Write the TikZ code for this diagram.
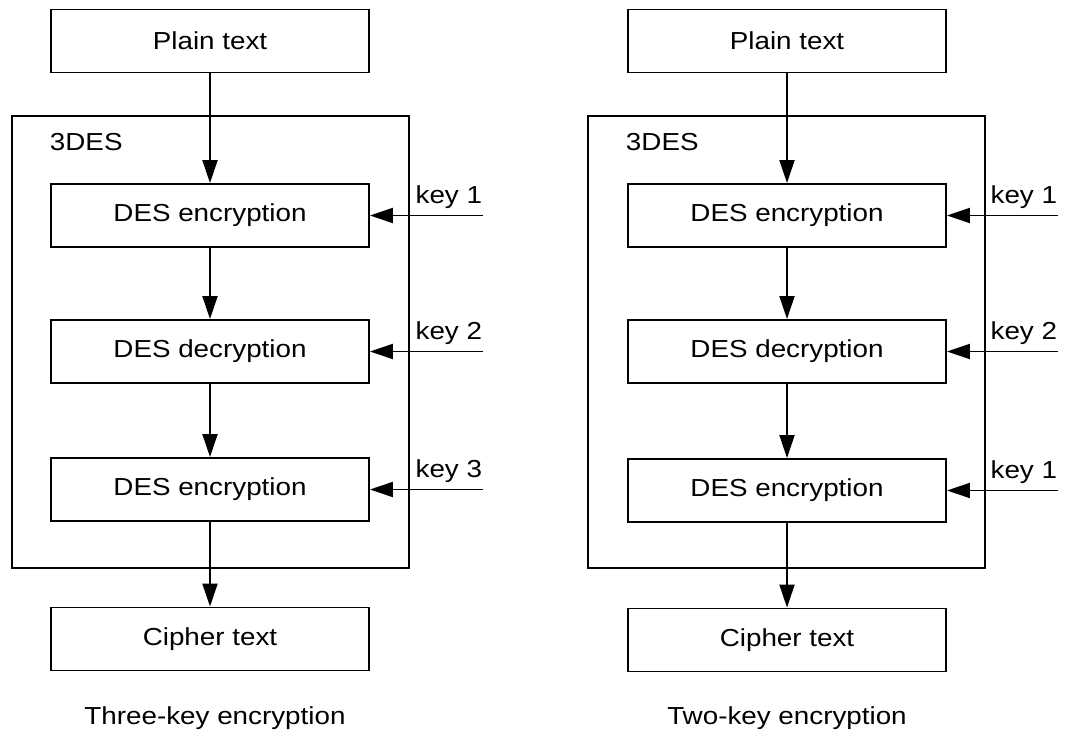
\documentclass[tikz,border=0pt]{standalone}
\usepackage{fontspec}
\setmainfont{Liberation Sans}[FakeStretch=1.13]
\usetikzlibrary{arrows.meta,positioning}

\begin{document}
\begin{tikzpicture}[x=0.02cm, y=-0.02cm, line width=1.1pt,
		font=\fontsize{14}{17}\selectfont,
		blk/.style={draw, minimum width=6.36cm, minimum height=1.26cm, inner sep=0pt},
		grp/.style={draw, minimum width=7.94cm, minimum height=9.04cm, inner sep=0pt},
		txt/.style={inner sep=0pt},
		flow/.style={-{Triangle[length=0.46cm, width=0.3cm]}}]
	\useasboundingbox (0,0) rectangle (1074,740);
	% three keys
	\node [blk] (pa) at (210,41) {Plain text};
	\node [grp] (ga) at (210.5,342) {};
	\node [txt, anchor=base west] (ta) at (49,150) {3DES};
	\node [blk] (ea1) at (210,215.5) {DES encryption};
	\node [blk] (da) at (210,351.5) {DES decryption};
	\node [blk] (ea2) at (210,489.5) {DES encryption};
	\node [blk] (ca) at (210,639) {Cipher text};
	\coordinate (ka1) at (483,215.5);
	\coordinate (ka2) at (483,351.5);
	\coordinate (ka3) at (483,489.5);
	\node [txt, anchor=base east] (la1) at ([yshift=0.25cm]ka1) {key 1};
	\node [txt, anchor=base east] (la2) at ([yshift=0.25cm]ka2) {key 2};
	\node [txt, anchor=base east] (la3) at ([yshift=0.25cm]ka3) {key 3};
	\node [txt, anchor=base] (capa) at (215,724) {Three-key encryption};
	%
	\draw [flow] (pa) -- (ea1);
	\draw [flow] (ea1) -- (da);
	\draw [flow] (da) -- (ea2);
	\draw [flow] (ea2) -- (ca);
	\draw [flow] (ka1) -- (ea1);
	\draw [flow] (ka2) -- (da);
	\draw [flow] (ka3) -- (ea2);
	% two keys
	\node [blk] (pb) at (787,41) {Plain text};
	\node [grp] (gb) at (786.5,342) {};
	\node [txt, anchor=base west] (tb) at (625,150) {3DES};
	\node [blk] (eb1) at (787,215.5) {DES encryption};
	\node [blk] (db) at (787,351.5) {DES decryption};
	\node [blk] (eb2) at (787,490.5) {DES encryption};
	\node [blk] (cb) at (787,640) {Cipher text};
	\coordinate (kb1) at (1058,215.5);
	\coordinate (kb2) at (1058,351.5);
	\coordinate (kb3) at (1058,490.5);
	\node [txt, anchor=base east] (lb1) at ([yshift=0.25cm]kb1) {key 1};
	\node [txt, anchor=base east] (lb2) at ([yshift=0.25cm]kb2) {key 2};
	\node [txt, anchor=base east] (lb3) at ([yshift=0.25cm]kb3) {key 1};
	\node [txt, anchor=base] (capb) at (787,724) {Two-key encryption};
	%
	\draw [flow] (pb) -- (eb1);
	\draw [flow] (eb1) -- (db);
	\draw [flow] (db) -- (eb2);
	\draw [flow] (eb2) -- (cb);
	\draw [flow] (kb1) -- (eb1);
	\draw [flow] (kb2) -- (db);
	\draw [flow] (kb3) -- (eb2);
\end{tikzpicture}
\end{document}
